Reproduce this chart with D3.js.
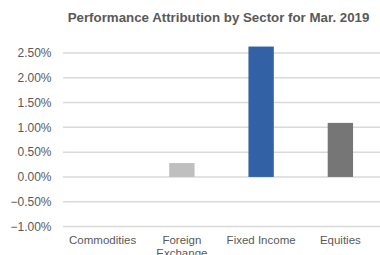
<!DOCTYPE html>
<html>
<head>
<meta charset="utf-8">
<script src="https://cdn.jsdelivr.net/npm/d3@7"></script>
<style>
  body { margin: 0; background: #fff; }
  text { font-family: "Liberation Sans", Arial, sans-serif; fill: #595959; }
  .grid line { stroke: #d9d9d9; stroke-width: 1.5; }
</style>
</head>
<body>
<div id="chart"></div>
<script>
var sectors = ["Commodities", "Foreign Exchange", "Fixed Income", "Equities"];
var attribution = [0.0, 0.0028, 0.0263, 0.0109];
var barColors = ["#bfbfbf", "#bfbfbf", "#3261a6", "#767676"];
var yTicks = [-0.01, -0.005, 0, 0.005, 0.01, 0.015, 0.02, 0.025];
var title = "Performance Attribution by Sector for Mar. 2019";

var width = 380, height = 255,
    margin = {top: 53, right: 0, bottom: 28, left: 63};

var svg = d3.select("#chart").append("svg")
    .attr("width", width)
    .attr("height", height);

var xScale = d3.scaleBand()
    .domain(sectors)
    .range([margin.left, 380])
    .paddingInner(0.68)
    .paddingOuter(0.34);

var yScale = d3.scaleLinear()
    .domain([-0.01, 0.025])
    .range([226.5, 53]);

// gridlines
svg.append("g")
    .attr("class", "grid")
    .selectAll("line")
    .data(yTicks)
    .enter().append("line")
    .attr("x1", margin.left)
    .attr("x2", 380)
    .attr("y1", function(d) { return yScale(d); })
    .attr("y2", function(d) { return yScale(d); });

// y labels
svg.append("g")
    .selectAll("text")
    .data(yTicks)
    .enter().append("text")
    .attr("x", 51.5)
    .attr("y", function(d) { return yScale(d) + 4.3; })
    .attr("text-anchor", "end")
    .style("font-size", "12px")
    .text(function(d) { return d3.format(".2%")(d); });

// bars
svg.append("g")
    .selectAll("rect")
    .data(attribution)
    .enter().append("rect")
    .attr("x", function(d, i) { return xScale(sectors[i]); })
    .attr("width", xScale.bandwidth())
    .attr("y", function(d) { return yScale(Math.max(0, d)); })
    .attr("height", function(d) { return Math.abs(yScale(d) - yScale(0)); })
    .attr("fill", function(d, i) { return barColors[i]; });

// category labels (wrap "Foreign Exchange")
var cats = svg.append("g")
    .selectAll("text")
    .data(sectors)
    .enter().append("text")
    .attr("x", function(d) { return xScale(d) + xScale.bandwidth() / 2; })
    .attr("y", 244)
    .attr("text-anchor", "middle")
    .style("font-size", "11.5px");

cats.each(function(d) {
  var lines = d === "Foreign Exchange" ? ["Foreign", "Exchange"] : [d];
  var t = d3.select(this);
  lines.forEach(function(l, i) {
    t.append("tspan")
      .attr("x", t.attr("x"))
      .attr("dy", i === 0 ? 0 : 13)
      .text(l);
  });
});

svg.append("text")
    .attr("x", 218.5)
    .attr("y", 22)
    .attr("text-anchor", "middle")
    .style("font-size", "13.3px")
    .style("font-weight", "bold")
    .text(title);
</script>
</body>
</html>
